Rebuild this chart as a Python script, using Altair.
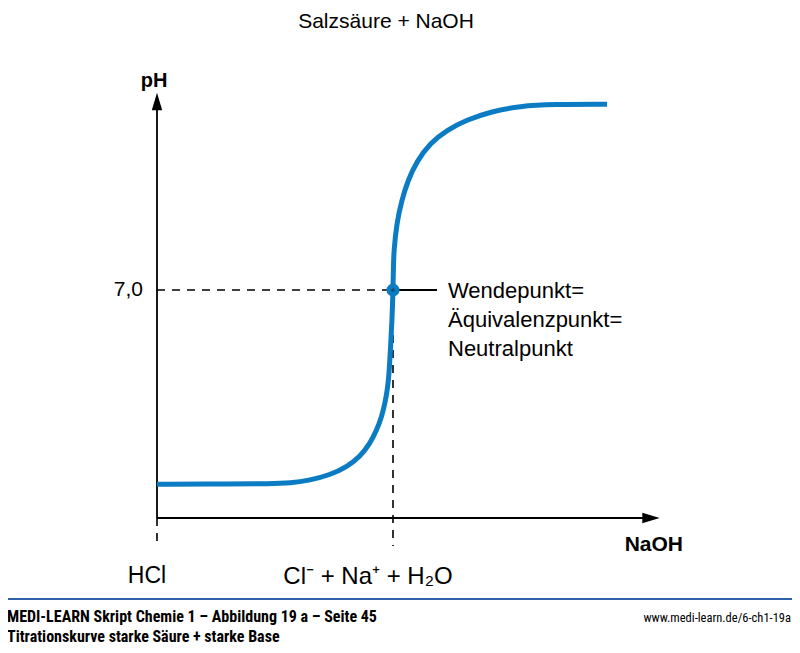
import altair as alt
import pandas as pd

# ---- data ----
naoh = [0.0, 0.309, 0.479, 0.564, 0.648, 0.733, 0.804, 0.860, 0.903, 0.931,
        0.952, 0.966, 0.976, 0.983, 0.989, 0.996, 1.0, 1.002, 1.004, 1.016,
        1.037, 1.064, 1.100, 1.157, 1.228, 1.312, 1.411, 1.538, 1.678, 1.907]
ph = [1.04, 1.04, 1.05, 1.07, 1.16, 1.32, 1.57, 1.88, 2.29, 2.70,
      3.11, 3.52, 3.93, 4.39, 5.16, 6.08, 7.0, 7.77, 8.23, 9.06,
      9.76, 10.38, 10.94, 11.51, 11.91, 12.22, 12.47, 12.65, 12.70, 12.70]

eq_x = 1.0
eq_ph = 7.0

title_text = "Salzsäure + NaOH"
y_label = "pH"
x_label = "NaOH"
tick_label = "7,0"
start_label = "HCl"
eq_label = "Cl⁻ + Na⁺ + H₂O"
annot_lines = ["Wendepunkt=", "Äquivalenzpunkt=", "Neutralpunkt"]
footer_line1 = "MEDI-LEARN Skript Chemie 1 – Abbildung 19 a – Seite 45"
footer_line2 = "Titrationskurve starke Säure + starke Base"
footer_url = "www.medi-learn.de/6-ch1-19a"

# ---- layout ----
W, H, M = 784, 637, 8
PX0, PXEQ, PY0, PY7 = 157, 393, 518, 290
sx = (PXEQ - PX0) / eq_x
sy = (PY0 - PY7) / eq_ph


def dx(page_x):
    return (page_x - PX0) / sx


def dy(page_y):
    return (PY0 - page_y) / sy


xs = alt.Scale(domain=[dx(M), dx(M + W)], nice=False, zero=False)
ys = alt.Scale(domain=[dy(M + H), dy(M)], nice=False, zero=False)

FONT = "Liberation Sans, Arial, sans-serif"
NARROW = "Liberation Sans Narrow, Arial Narrow, Roboto Condensed, DejaVu Sans Condensed, Liberation Sans, sans-serif"
BLUE = "#0b7cc3"


def X(f="x"):
    return alt.X(f + ":Q", scale=xs, axis=None)


def Y(f="y"):
    return alt.Y(f + ":Q", scale=ys, axis=None)


curve_df = pd.DataFrame({"x": naoh, "y": ph})

bottom_ph = dy(546)
dashed_df = pd.DataFrame({
    "x": [0.0, eq_x, 0.0],
    "x2": [eq_x, eq_x, 0.0],
    "y": [eq_ph, eq_ph, 0.0],
    "y2": [eq_ph, bottom_ph, bottom_ph],
})
dashed = alt.Chart(dashed_df).mark_rule(color="black", strokeWidth=1.6, strokeDash=[8, 7]).encode(
    x=X(), x2="x2:Q", y=Y(), y2="y2:Q")

axes_df = pd.DataFrame({
    "x": [0.0, 0.0, eq_x],
    "x2": [0.0, dx(648), dx(437)],
    "y": [0.0, 0.0, eq_ph],
    "y2": [dy(108), 0.0, eq_ph],
})
axes = alt.Chart(axes_df).mark_rule(color="black", strokeWidth=1.8).encode(
    x=X(), x2="x2:Q", y=Y(), y2="y2:Q")

arrow_up = alt.Chart(pd.DataFrame({"x": [0.0], "y": [dy(101.5)]})).mark_point(
    shape="M0,-1L0.6,1L-0.6,1Z", filled=True, color="black", opacity=1, size=300, strokeWidth=0
).encode(x=X(), y=Y())
arrow_right = alt.Chart(pd.DataFrame({"x": [dx(651)], "y": [0.0]})).mark_point(
    shape="M1,0L-1,0.6L-1,-0.6Z", filled=True, color="black", opacity=1, size=300, strokeWidth=0
).encode(x=X(), y=Y())

curve = alt.Chart(curve_df).mark_line(color=BLUE, strokeWidth=5, interpolate="basis").encode(
    x=X(), y=Y())

pt_df = pd.DataFrame({"x": [eq_x], "y": [eq_ph]})
point = alt.Chart(pt_df).mark_point(shape="circle", filled=True, color=BLUE, opacity=1, size=170).encode(
    x=X(), y=Y())
point_c = alt.Chart(pt_df).mark_point(shape="circle", filled=True, color="#1d4a70", opacity=1, size=14).encode(
    x=X(), y=Y())


def txt(text, px, py, size, weight="normal", align="center", font=FONT, baseline="middle"):
    return alt.Chart(pd.DataFrame({"t": [text]})).mark_text(
        fontSize=size, fontWeight=weight, align=align, baseline=baseline, font=font, color="black"
    ).encode(x=alt.value(px - M), y=alt.value(py - M), text="t:N")


texts = [
    txt(title_text, 386, 11, 21, baseline="top"),
    txt(y_label, 154, 81, 20, weight="bold"),
    txt(x_label, 683, 545, 21, weight="bold", align="right"),
    txt(tick_label, 143, 290, 21, align="right"),
    txt(start_label, 147, 576, 23),
    txt(eq_label, 368, 577, 24),
    txt(footer_line1, 7, 622, 16, weight="bold", align="left", font=NARROW, baseline="alphabetic"),
    txt(footer_line2, 7, 645, 16, weight="bold", align="left", font=NARROW, baseline="bottom"),
    txt(footer_url, 791, 618, 12.5, align="right", font=NARROW),
]
for i, line in enumerate(annot_lines):
    texts.append(txt(line, 448, 291 + 29 * i, 22, align="left"))

footer_rule = alt.Chart(pd.DataFrame({"a": [0]})).mark_rule(color="#2f62ab", strokeWidth=2).encode(
    x=alt.value(0), x2=alt.value(W), y=alt.value(599 - M))

chart = alt.layer(dashed, axes, arrow_up, arrow_right, curve, point, point_c, footer_rule, *texts).properties(
    width=W, height=H, autosize=alt.AutoSizeParams(type="none"), padding=0
).configure_view(stroke=None)

chart.save("out.html", embed_options={"renderer": "svg", "actions": False})
